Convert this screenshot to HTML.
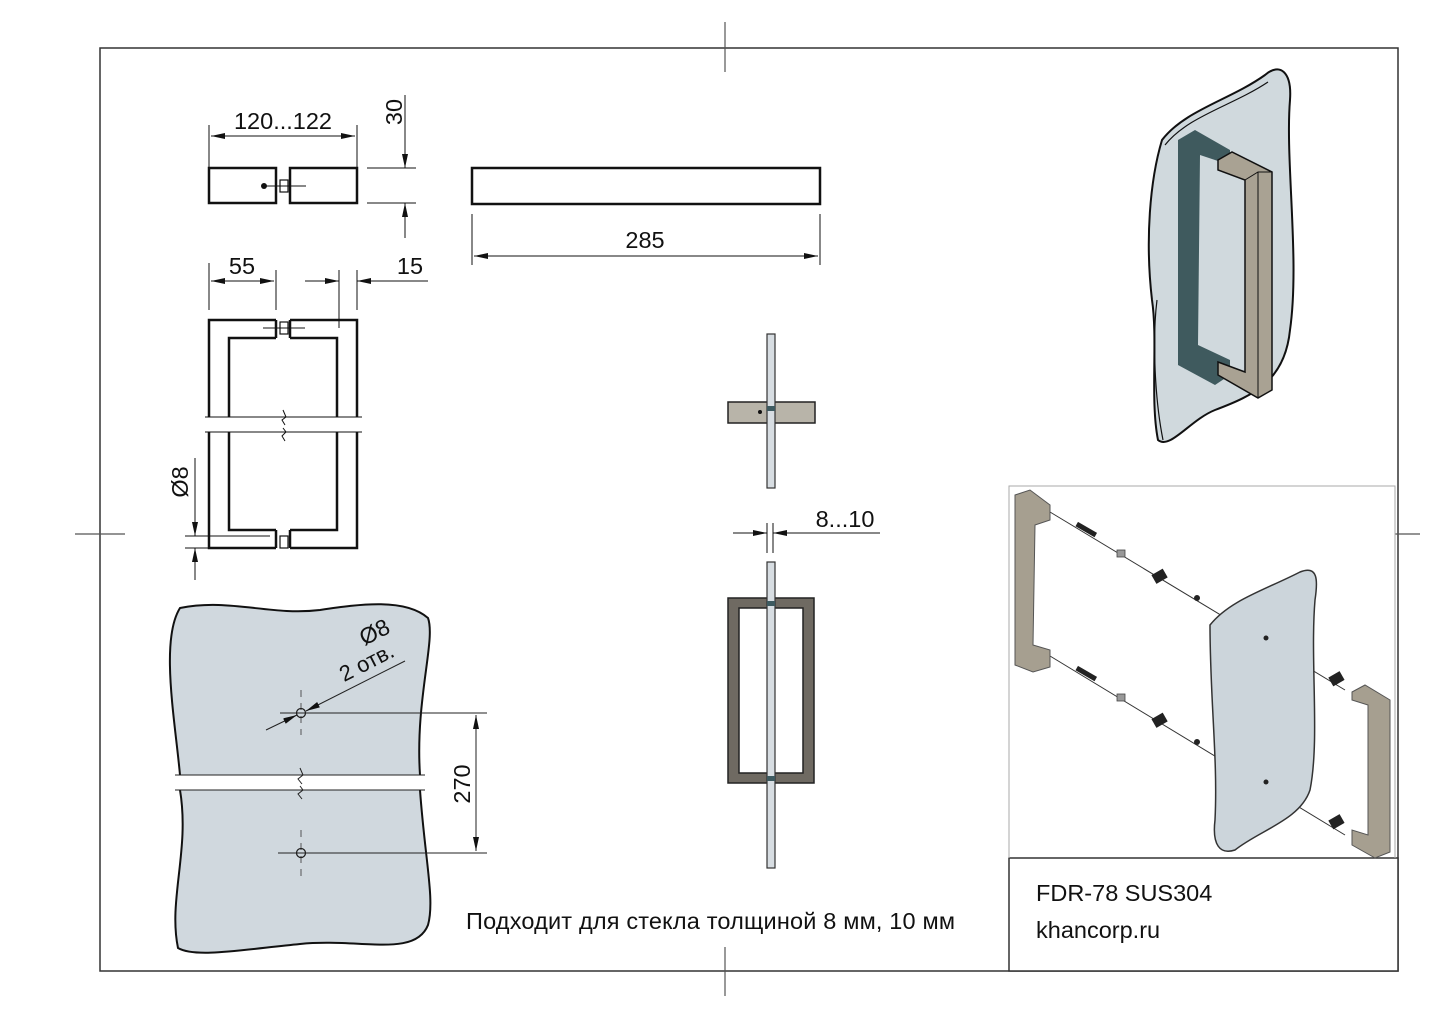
<!DOCTYPE html>
<html><head><meta charset="utf-8"><style>
html,body{margin:0;padding:0;background:#fff;}
svg{display:block;}
text{font-family:"Liberation Sans","Noto Sans CJK SC",sans-serif;fill:#111;}
</style></head><body>
<svg width="1444" height="1021" viewBox="0 0 1444 1021" xmlns="http://www.w3.org/2000/svg">
<defs>
<marker id="a" viewBox="0 0 14 6" refX="14" refY="3" markerWidth="14" markerHeight="6" orient="auto" markerUnits="userSpaceOnUse"><path d="M0,0 L14,3 L0,6 z" fill="#111"/></marker>
<marker id="b" viewBox="0 0 14 6" refX="0" refY="3" markerWidth="14" markerHeight="6" orient="auto" markerUnits="userSpaceOnUse"><path d="M14,0 L0,3 L14,6 z" fill="#111"/></marker>
</defs>
<!-- frame -->
<rect x="100" y="48" width="1298" height="923" fill="none" stroke="#333" stroke-width="1.5"/>
<g stroke="#555" stroke-width="1.2">
<line x1="725" y1="22" x2="725" y2="72"/><line x1="725" y1="947" x2="725" y2="996"/>
<line x1="75" y1="534" x2="125" y2="534"/><line x1="1395" y1="534" x2="1420" y2="534"/>
</g>
<!-- title block -->
<rect x="1009" y="858" width="389" height="113" fill="#fff" stroke="#333" stroke-width="1.5"/>
<text x="1036" y="901" font-size="23.5">FDR-78 SUS304</text>
<text x="1036" y="938" font-size="23.5">khancorp.ru</text>
<polyline points="1009,858 1009,486 1395,486 1395,858" fill="none" stroke="#aaa" stroke-width="1"/>

<!-- top view -->
<g stroke="#111" fill="none">
<rect x="209" y="168" width="67" height="35" stroke-width="2.5"/>
<rect x="290" y="168" width="67" height="35" stroke-width="2.5"/>
<rect x="280" y="180" width="8" height="12" stroke-width="1.2"/>
<line x1="266" y1="186" x2="306" y2="186" stroke-width="1"/>
<g stroke-width="1">
<line x1="209" y1="125" x2="209" y2="168"/><line x1="357" y1="125" x2="357" y2="168"/>
<line x1="211" y1="136" x2="355" y2="136" marker-start="url(#b)" marker-end="url(#a)"/>
<line x1="367" y1="168" x2="416" y2="168"/><line x1="367" y1="203" x2="416" y2="203"/>
<line x1="405" y1="95" x2="405" y2="168" marker-end="url(#a)"/>
<line x1="405" y1="238" x2="405" y2="203" marker-end="url(#a)"/>
</g>
</g>
<circle cx="264" cy="186" r="3" fill="#111"/>
<text x="283" y="129" font-size="23.5" text-anchor="middle">120...122</text>
<text transform="translate(402,112) rotate(-90)" font-size="23.5" text-anchor="middle">30</text>

<!-- long bar -->
<g stroke="#111" fill="none">
<rect x="472" y="168" width="348" height="36" stroke-width="2.5"/>
<g stroke-width="1">
<line x1="472" y1="214" x2="472" y2="265"/><line x1="820" y1="214" x2="820" y2="265"/>
<line x1="474" y1="256" x2="818" y2="256" marker-start="url(#b)" marker-end="url(#a)"/>
</g></g>
<text x="645" y="248" font-size="23.5" text-anchor="middle">285</text>

<!-- front view handle -->
<g stroke="#111" fill="none" stroke-width="2.5">
<path d="M276,320 H209 V417 M209,432 V548 H276 M276,530 H229 V432 M229,417 V338 H276 M276,320 V338 M276,530 V548"/>
<path d="M290,320 H357 V417 M357,432 V548 H290 M290,530 H337 V432 M337,417 V338 H290 M290,320 V338 M290,530 V548"/>
<rect x="280" y="322" width="8" height="12" stroke-width="1.2"/>
<rect x="280" y="536" width="8" height="12" stroke-width="1.2"/>
</g>
<g stroke="#111" fill="none" stroke-width="1">
<line x1="205" y1="417" x2="362" y2="417"/><line x1="205" y1="432" x2="362" y2="432"/>
<path d="M283,410 L286,417 L282,420 L285,425"/><path d="M283,428 L286,432 L282,436 L285,441"/>
<line x1="263" y1="328" x2="305" y2="328"/>
<line x1="209" y1="263" x2="209" y2="310"/><line x1="276" y1="270" x2="276" y2="310"/>
<line x1="211" y1="281" x2="274" y2="281" marker-start="url(#b)" marker-end="url(#a)"/>
<line x1="339" y1="270" x2="339" y2="328"/><line x1="357" y1="270" x2="357" y2="310"/>
<line x1="305" y1="281" x2="339" y2="281" marker-end="url(#a)"/>
<line x1="428" y1="281" x2="357" y2="281" marker-end="url(#a)"/>
<line x1="185" y1="536" x2="270" y2="536"/><line x1="185" y1="548" x2="270" y2="548"/>
<line x1="195" y1="458" x2="195" y2="536" marker-end="url(#a)"/>
<line x1="195" y1="580" x2="195" y2="548" marker-end="url(#a)"/>
</g>
<text x="242" y="274" font-size="23.5" text-anchor="middle">55</text>
<text x="410" y="274" font-size="23.5" text-anchor="middle">15</text>
<text transform="translate(188,482) rotate(-90)" font-size="23.5" text-anchor="middle">Ø8</text>

<!-- side views -->
<rect x="728" y="402" width="87" height="21" fill="#b8b4a9" stroke="#222" stroke-width="1.5"/>
<rect x="767" y="334" width="8" height="154" fill="#d7dde2" stroke="#333" stroke-width="1.2"/>
<rect x="767" y="406" width="8" height="5" fill="#3d5a60"/>
<circle cx="760" cy="412" r="2" fill="#111"/>
<g stroke="#111" stroke-width="1" fill="none">
<line x1="767" y1="523" x2="767" y2="553"/><line x1="773" y1="523" x2="773" y2="553"/>
<line x1="733" y1="533" x2="767" y2="533" marker-end="url(#a)"/>
<line x1="880" y1="533" x2="773" y2="533" marker-end="url(#a)"/>
</g>
<text x="845" y="527" font-size="23.5" text-anchor="middle">8...10</text>
<path d="M728,598 H814 V783 H728 Z M739,608 V773 H803 V608 Z" fill="#6f6a62" fill-rule="evenodd" stroke="#222" stroke-width="1.5"/>
<rect x="767" y="562" width="8" height="306" fill="#d7dde2" stroke="#333" stroke-width="1.2"/>
<rect x="767" y="601" width="8" height="5" fill="#3d5a60"/><rect x="767" y="776" width="8" height="5" fill="#3d5a60"/>

<!-- glass bottom-left -->
<path d="M180,608 C230,598 270,616 320,610 C360,604 405,598 428,618 C436,640 415,700 420,775 L420,790 C425,860 435,900 428,925 C415,958 360,938 300,944 C240,950 195,958 178,948 C168,900 190,850 180,790 L180,775 C175,720 160,640 180,608 Z" fill="#d0d8de" stroke="#111" stroke-width="2"/>
<rect x="170" y="775" width="260" height="15" fill="#fff"/>
<g stroke="#222" stroke-width="1" fill="none">
<line x1="175" y1="775" x2="425" y2="775"/><line x1="175" y1="790" x2="425" y2="790"/>
<path d="M300,768 L303,775 L298,779 L302,784"/><path d="M300,786 L303,790 L298,794 L302,799"/>
<line x1="301" y1="690" x2="301" y2="735" stroke-dasharray="7,6" stroke="#555"/>
<line x1="301" y1="830" x2="301" y2="876" stroke-dasharray="7,6" stroke="#555"/>
<circle cx="301" cy="713" r="4.5" stroke-width="1.3"/><circle cx="301" cy="853" r="4.5" stroke-width="1.3"/>
<line x1="280" y1="713" x2="487" y2="713"/><line x1="278" y1="853" x2="487" y2="853"/>
<line x1="266" y1="730" x2="297" y2="715" marker-end="url(#a)"/>
<line x1="405" y1="661" x2="306" y2="711" marker-end="url(#a)"/>
<line x1="476" y1="715" x2="476" y2="851" marker-start="url(#b)" marker-end="url(#a)"/>
</g>
<text transform="translate(378,639) rotate(-27)" font-size="23" text-anchor="middle">Ø8</text>
<text transform="translate(370,669) rotate(-27)" font-size="22" text-anchor="middle">2 отв.</text>
<text transform="translate(470,784) rotate(-90)" font-size="23.5" text-anchor="middle">270</text>
<text x="466" y="929" font-size="23.5" textLength="489">Подходит для стекла толщиной 8 мм, 10 мм</text>

<!-- 3D view top right -->
<path d="M1162,140 C1185,110 1230,100 1265,75 C1280,62 1292,72 1290,100 C1285,160 1300,260 1290,330 C1285,380 1255,395 1215,410 C1190,420 1170,450 1158,440 C1150,400 1158,340 1152,300 C1145,240 1150,180 1162,140 Z" fill="#d0d9dd" stroke="#111" stroke-width="2"/>
<path d="M1165,145 C1188,116 1232,106 1268,82 M1157,300 C1152,340 1155,400 1163,440" fill="none" stroke="#111" stroke-width="1.2"/>
<path d="M1178,140 L1195,130 L1230,150 L1230,165 L1200,155 L1198,345 L1230,360 L1230,375 L1215,385 L1178,365 Z" fill="#3f5a5e"/>
<path d="M1218,160 L1232,152 L1272,172 L1272,390 L1258,398 L1218,375 L1218,362 L1245,372 L1245,180 L1218,170 Z" fill="#a9a293" stroke="#111" stroke-width="1.5"/>
<path d="M1245,180 L1258,172 L1272,172 M1258,172 L1258,398" fill="none" stroke="#111" stroke-width="1"/>

<!-- exploded view -->
<g stroke="#333" stroke-width="1" fill="none">
<line x1="1050" y1="512" x2="1345" y2="690"/>
<line x1="1050" y1="656" x2="1345" y2="835"/>
</g>
<path d="M1015,495 L1030,490 L1050,505 L1050,520 L1035,525 L1033,645 L1050,650 L1050,667 L1033,672 L1015,665 Z" fill="#a69f90" stroke="#555" stroke-width="1"/>
<path d="M1210,625 C1230,600 1265,590 1300,572 C1318,565 1318,580 1315,600 C1310,660 1320,740 1310,790 C1300,820 1260,830 1235,850 C1220,855 1212,845 1215,820 C1218,760 1210,700 1210,625 Z" fill="#ccd5db" stroke="#333" stroke-width="1.5"/>
<path d="M1352,692 L1365,685 L1390,700 L1390,852 L1375,858 L1352,845 L1352,830 L1368,835 L1368,705 L1352,700 Z" fill="#a69f90" stroke="#555" stroke-width="1"/>
<g fill="#222">
<rect x="1153" y="571" width="13" height="10" transform="rotate(-30 1160 576)"/>
<rect x="1153" y="715" width="13" height="10" transform="rotate(-30 1160 720)"/>
<rect x="1330" y="674" width="13" height="10" transform="rotate(-30 1336 679)"/>
<rect x="1330" y="817" width="13" height="10" transform="rotate(-30 1336 822)"/>
<rect x="1075" y="527" width="22" height="5" transform="rotate(30 1086 530)"/>
<rect x="1075" y="671" width="22" height="5" transform="rotate(30 1086 674)"/>
<circle cx="1197" cy="598" r="3"/><circle cx="1197" cy="742" r="3"/>
<circle cx="1266" cy="638" r="2.5"/><circle cx="1266" cy="782" r="2.5"/>
</g>
<g fill="#999" stroke="#444" stroke-width="0.8">
<rect x="1117" y="550" width="8" height="7"/><rect x="1117" y="694" width="8" height="7"/>
</g>
</svg>
</body></html>
